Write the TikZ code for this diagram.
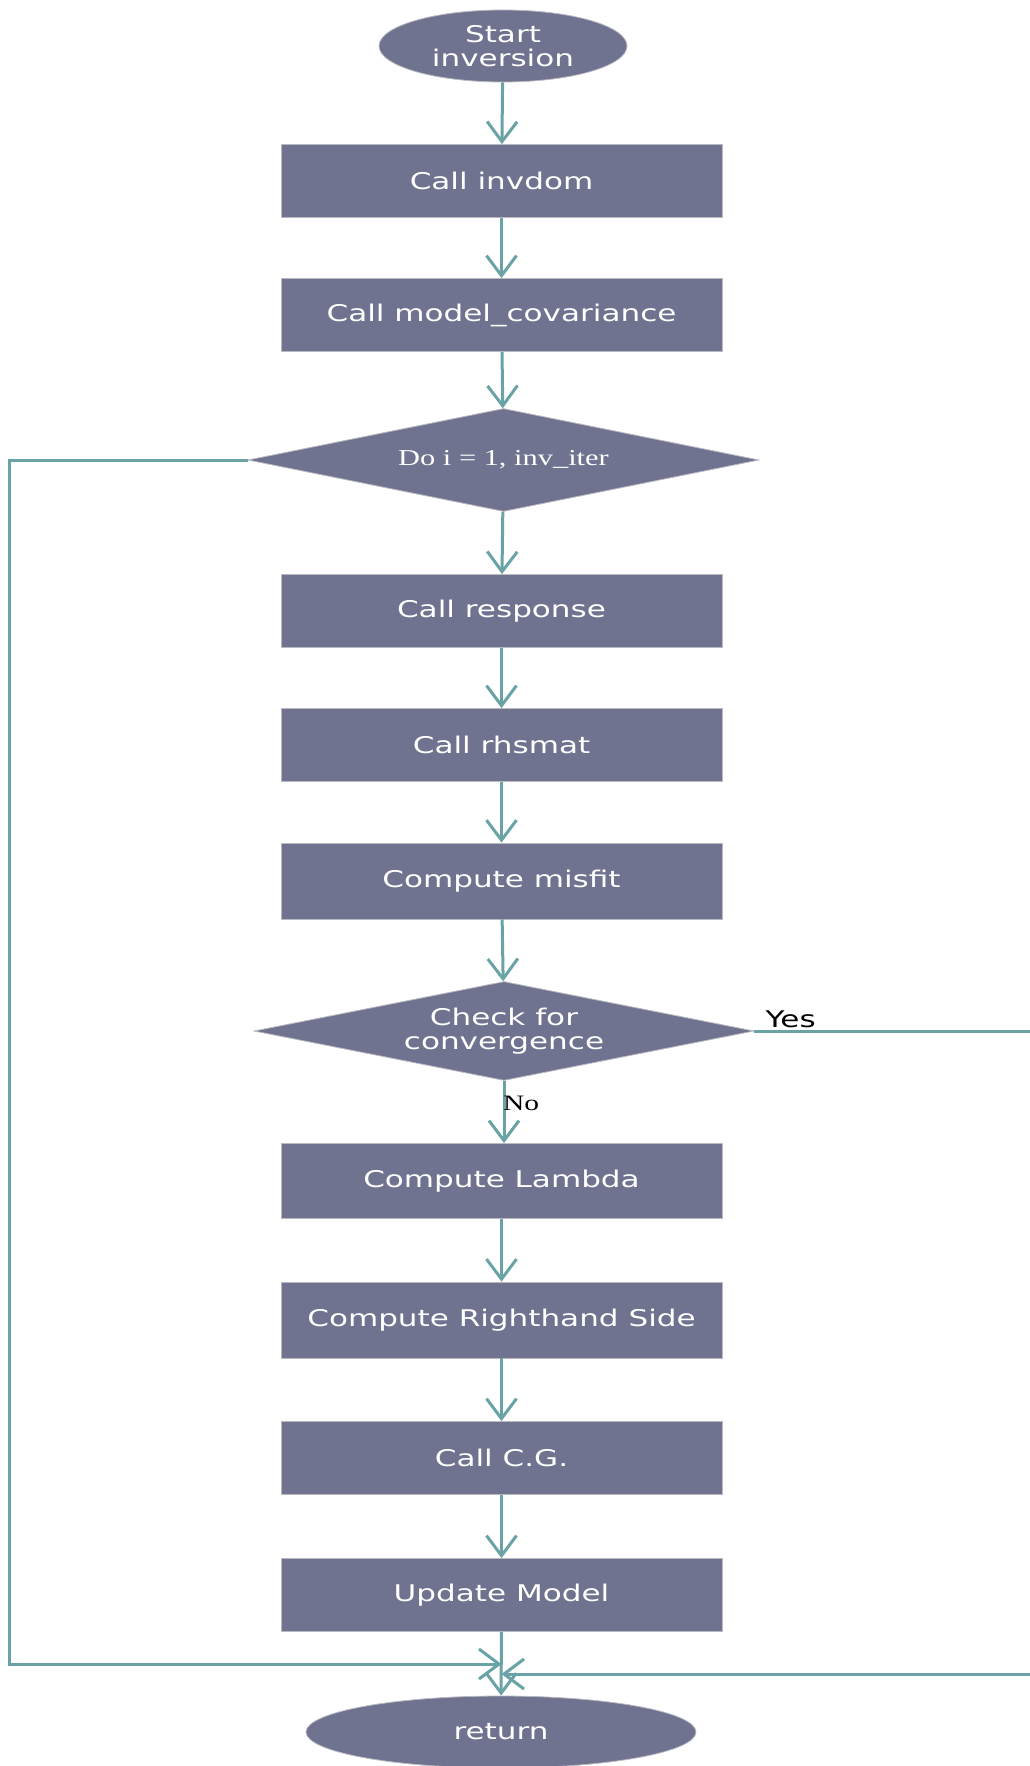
\documentclass[tikz,border=0pt]{standalone}
\usepackage{fontspec}
\setmainfont{DejaVu Sans}[FakeStretch=1.35]
\newfontfamily\serifst{Liberation Serif}[FakeStretch=1.34]
\usetikzlibrary{shapes.geometric,arrows.meta}
\definecolor{boxfill}{RGB}{111,115,143}
\definecolor{flow}{RGB}{106,163,166}
\definecolor{edgec}{RGB}{185,185,192}
\begin{document}
\begin{tikzpicture}[x=1pt,y=-1pt,
 base/.style={fill=boxfill, draw=edgec, line width=0.8pt, text=white, font=\fontsize{23}{24}\selectfont, align=center, inner sep=0pt},
 proc/.style={base, rectangle, minimum width=441pt, minimum height=73pt},
 term/.style={base, ellipse},
 dec/.style={base, diamond, aspect=4.9},
 flowarrow/.style={draw=flow, line width=3pt, -{Straight Barb[length=20pt,width=30pt,line width=3pt]}},
 loopline/.style={draw=flow, line width=3pt, -{Straight Barb[length=20pt,width=30pt,line width=3pt]}},
 lbl/.style={text=black, inner sep=0pt, font=\fontsize{23}{24}\selectfont}]
\useasboundingbox[fill=white] (0,0) rectangle (1030,1766);
\clip (0,0) rectangle (1030,1766);

\node[term, minimum width=248pt, minimum height=72pt] (start) at (503,46) {Start\\inversion};
\node[proc] (b1) at (501.5,181) {Call invdom};
\node[proc] (b2) at (501.5,315) {Call model\_covariance};
\node[dec, minimum width=511pt, minimum height=103pt, font=\serifst\fontsize{22.7}{24}\selectfont] (d1) at (503.5,460) {Do i = 1, inv\_iter};
\node[proc] (b3) at (501.5,611) {Call response};
\node[proc] (b4) at (501.5,745) {Call rhsmat};
\node[proc, minimum height=76pt] (b5) at (501.5,881) {Compute misfit};
\node[dec, minimum width=500pt, minimum height=99pt] (d2) at (504,1031) {Check for\\convergence};
\node[proc, minimum height=75pt] (b6) at (501.5,1181) {Compute Lambda};
\node[proc, minimum height=76pt] (b7) at (501.5,1320) {Compute Righthand Side};
\node[proc] (b8) at (501.5,1458) {Call C.G.};
\node[proc] (b9) at (501.5,1595) {Update Model};
\node[term, minimum width=390pt, minimum height=72pt] (ret) at (501,1732) {return};

\draw[flowarrow] (start) -- (b1);
\draw[flowarrow] (b1) -- (b2);
\draw[flowarrow] (b2) -- (d1);
\draw[flowarrow] (d1) -- (b3);
\draw[flowarrow] (b3) -- (b4);
\draw[flowarrow] (b4) -- (b5);
\draw[flowarrow] (b5) -- (d2);
\draw[flowarrow] (d2.south) -- (d2.south |- b6.north);
\draw[flowarrow] (b6) -- (b7);
\draw[flowarrow] (b7) -- (b8);
\draw[flowarrow] (b8) -- (b9);
\draw[flowarrow] (b9) -- (ret);

\coordinate (jl) at (501.5,1664);
\coordinate (jr) at (501.5,1674);
\draw[loopline] (d1.west) -- (9.5,460) -- (9.5,1664) -- (jl);
\draw[loopline] (d2.east) -- (1045,1031) -- (1045,1674) -- (jr);

\node[lbl, anchor=south west] (yes) at ([xshift=11pt,yshift=3pt]d2.east) {Yes};
\node[lbl, anchor=base west, font=\serifst\fontsize{22}{24}\selectfont] (no) at ([xshift=-1pt,yshift=-30pt]d2.south) {No};
\end{tikzpicture}
\end{document}
